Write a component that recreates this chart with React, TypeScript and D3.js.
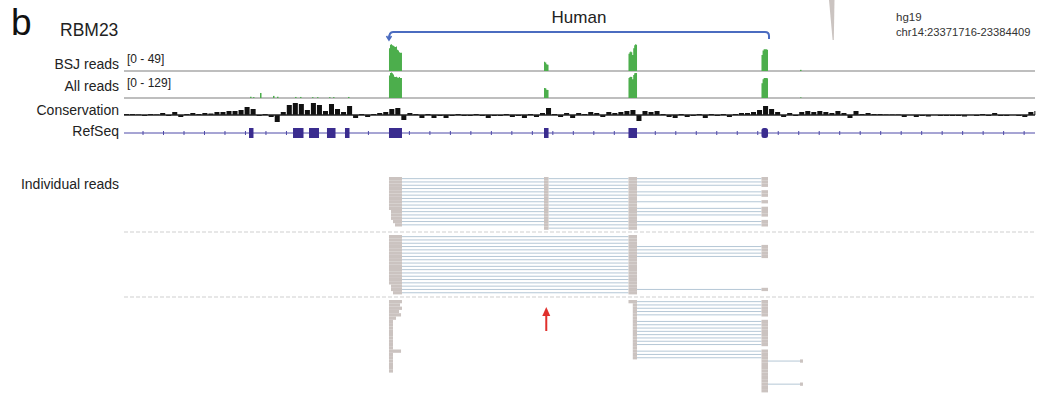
import React from "react";
import * as d3 from "d3";

// hg19 chr14 window
const regionStart = 23371716;
const regionEnd = 23384409;

// circRNA exons (left to right on screen)
const circExons: [number, number][] = [
  [23375408, 23375589],
  [23377568, 23377631],
  [23378745, 23378864],
  [23380598, 23380689],
];
const tailBlock: [number, number] = [23381135, 23381176];
const otherExons: [number, number][] = [
  [23373458, 23373520],
  [23374071, 23374217],
  [23374294, 23374433],
  [23374544, 23374663],
  [23374795, 23374858],
];

// coverage samples across each circ exon
const bsjCoverage = [
  [40, 46, 47, 45, 44, 43, 42, 43, 37, 36, 33, 32, 32],
  [16, 15, 12, 11],
  [30, 33, 34, 33, 28, 40, 45, 47, 46],
  [28, 36, 38, 38, 38, 37],
];
const allCoverage = [
  [108, 120, 122, 118, 112, 102, 100, 101, 98, 97, 100, 96, 95],
  [48, 46, 40, 38],
  [95, 100, 102, 100, 90, 110, 118, 120, 119],
  [70, 90, 96, 96, 95, 94],
];
const allSmallPeaks: [number, number][] = [
  [23373472, 6], [23373513, 4], [23373611, 24], [23373792, 10], [23373848, 6],
  [23374099, 5], [23374168, 5], [23374335, 4], [23374405, 4], [23374572, 4],
  [23374628, 4], [23374837, 5], [23381135, 3],
];
const bsjSmallPeaks: [number, number][] = [[23381135, 2]];

// conservation score per 84 bp bin
const consBin = 84;
const conservation = [
  1, 1, 0.5, -1, 1, 0.5, 2, -1, 3, -2,
  1, 2, 1, 2, 1.5, 3, 3, 4, 4, 5,
  8, 6, -1, 1, -2, -7, 3, 10, 12, 11,
  5, 12, 10, 4, 11, 6, 3, 9, -3, 1,
  -2, 1, 2, 3, 6, 7, -5, 2, 1, -3,
  1, -3, -1, -3, -1, 1, -1, -1, 1, -1,
  -3, -1, -1, 1, -2, -1, -3, 1, -2, 2,
  7, 1, -2, 2, -3, 2, 1, 3, 2, -2,
  3, 2, 3, 4, 5, -6, 4, 3, 4, 1,
  -2, -3, 1, -2, -1, 1, -3, 1, -1, 1,
  -2, 1, 2, 2, 3, 5, 9, 6, 3, -2,
  2, -1, 3, 4, 3, 4, 3, 2, 4, 2,
  -3, 4, 1, 2, 1, 1, 0.5, 0.5, 0.5, -2,
  0, -2, -1, -1.5, 0, -1, -1, -1, -1, -1.5,
  0, -1, 1, -1, 2, -1, -1, 0, -1, -2,
  3, 4,
];

// individual reads: each string is the chain of blocks (0-3 circ exons, 4 tail)
const group1Chains = ["0123", "0123", "0123", "012", "0123", "0123", "012", "0123", "012", "0123", "0123", "0123", "012", "0123", "0123", "12"];
const group1Shift = [0, 0, 0, 0, 0, 0, 0, 0, 0, 0, 28, 28, 28, 56, 84, 0];
const group2Chains = ["02", "02", "02", "023", "023", "023", "023", "02", "02", "02", "02", "02", "02", "02", "02", "02", "023", "02"];
const group2Shift = [0, 0, 0, 0, 0, 0, 0, 0, 0, 0, 0, 0, 0, 0, 0, 28, 28, 56];
const group3LeftEnds = [
  23375589, 23375562, 23375589, 23375548, 23375576, 23375506, 23375464, 23375464,
  23375464, 23375464, 23375464, 23375464, 23375464, 23375464, 23375464, 23375576,
  23375464, 23375464, 23375464, 23375464, 23375464, 23375464,
];
const group3RightChains = [
  "23", "23", "23", "23", "23", "2", "23", "23", "23", "23", "23", "23", "23", "23",
  "2", "23", "23", "23", "34", "3", "3", "3", "3", "3", "3", "34", "3", "3",
];
const group3RightShift = [0, 60, 60, 60, 60, 60, 60, 60, 60, 60, 60, 60, 60, 60, 60, 60, 60, 60, 0, 0, 0, 0, 0, 0, 0, 0, 0, 0];

const readBlocks = [...circExons, tailBlock];
const rowStep = 3.3;
const font = "'Liberation Sans', Arial, sans-serif";

export default function App() {
  const x = d3.scaleLinear().domain([regionStart, regionEnd]).range([124, 1035]);
  const yBsj = d3.scaleLinear().domain([0, 49]).range([71, 43]);
  const yAll = d3.scaleLinear().domain([0, 129]).range([98, 71]);
  const yCons = d3.scaleLinear().domain([-10, 14]).range([125, 101]);

  const covPath = (vals: number[], ex: [number, number], y: d3.ScaleLinear<number, number>) => {
    const step = (ex[1] - ex[0]) / vals.length;
    const pts: [number, number][] = vals.map((v, i) => [ex[0] + i * step, v]);
    pts.push([ex[1], vals[vals.length - 1]]);
    return d3
      .area<[number, number]>()
      .x((d) => x(d[0]))
      .y0(y(0))
      .y1((d) => y(d[1]))
      .curve(d3.curveStepAfter)(pts) as string;
  };

  const readMarks = (key: string, chain: string, top: number, row: number, shift = 0, endOverride?: number) => {
    const blocks = chain.split("").map((c) => [...readBlocks[+c]] as [number, number]);
    blocks[0][0] += shift;
    if (endOverride) blocks[blocks.length - 1][1] = endOverride;
    const yTop = top + row * rowStep;
    const yMid = yTop + rowStep / 2;
    return (
      <g key={key}>
        {blocks.slice(1).map((b, i) => (
          <line key={"l" + i} x1={x(blocks[i][1])} x2={x(b[0])} y1={yMid} y2={yMid} stroke="#b5c7d6" strokeWidth={1} />
        ))}
        {blocks.map((b, i) => (
          <rect key={"b" + i} x={x(b[0])} y={yTop} width={x(b[1]) - x(b[0])} height={rowStep} fill="#cbc3c0" />
        ))}
      </g>
    );
  };

  const allExons = [...otherExons, ...circExons];
  const inExon = (p: number) => allExons.some((e) => p >= e[0] - 40 && p <= e[1] + 40);
  const arrowTicks = d3.range(23371981, regionEnd, 285.5).filter((p) => !inExon(p));

  const labelStyle = { fontFamily: font, fontSize: 14, fill: "#222" } as const;
  const bracketL = x(circExons[0][0]);
  const bracketR = x(circExons[3][1]) + 1;
  const arrowX = x((circExons[1][0] + circExons[1][1]) / 2);

  return (
    <svg width={1046} height={394} style={{ position: "absolute", left: 0, top: 0, background: "#fff" }}>
      {/* headings */}
      <text x={11} y={35} style={{ fontFamily: font, fontSize: 37, fill: "#111" }}>b</text>
      <text x={60} y={36} style={{ fontFamily: font, fontSize: 17.5, fill: "#222" }}>RBM23</text>
      <text x={(bracketL + bracketR) / 2} y={23} textAnchor="middle" style={{ fontFamily: font, fontSize: 17, fill: "#222" }}>Human</text>
      <text x={896} y={21} style={{ fontFamily: font, fontSize: 11.5, fill: "#333" }}>hg19</text>
      <text x={896} y={36} style={{ fontFamily: font, fontSize: 11.2, fill: "#333" }}>chr14:23371716-23384409</text>
      <polygon points="829,0 834.5,0 833.8,40 832.6,40" fill="#cbc4c1" />

      {/* bracket over circRNA */}
      <path
        d={`M${bracketL},39 Q${bracketL},32 ${bracketL + 4},32 L${bracketR - 4},32 Q${bracketR},32 ${bracketR},36 L${bracketR},39`}
        fill="none" stroke="#4b6cc0" strokeWidth={2}
      />
      <path d={`M${bracketL - 2.5},36 L${bracketL},40 L${bracketL + 2.5},36`} fill="none" stroke="#4b6cc0" strokeWidth={1.5} />

      {/* track labels */}
      <text x={119} y={69} textAnchor="end" style={labelStyle}>BSJ reads</text>
      <text x={119} y={91} textAnchor="end" style={labelStyle}>All reads</text>
      <text x={119} y={115} textAnchor="end" style={labelStyle}>Conservation</text>
      <text x={119} y={136} textAnchor="end" style={labelStyle}>RefSeq</text>
      <text x={119} y={189} textAnchor="end" style={labelStyle}>Individual reads</text>
      <text x={127} y={63} style={{ fontFamily: font, fontSize: 12, fill: "#222" }}>[0 - 49]</text>
      <text x={127} y={87} style={{ fontFamily: font, fontSize: 12, fill: "#222" }}>[0 - 129]</text>

      {/* coverage tracks */}
      <line x1={x(regionStart)} x2={x(regionEnd)} y1={yBsj(0)} y2={yBsj(0)} stroke="#a9a9a9" strokeWidth={1.5} />
      <line x1={x(regionStart)} x2={x(regionEnd)} y1={yAll(0)} y2={yAll(0)} stroke="#a9a9a9" strokeWidth={1.5} />
      {circExons.map((ex, i) => (
        <g key={"cov" + i}>
          <path d={covPath(bsjCoverage[i], ex, yBsj)} fill="#4cae4c" />
          <path d={covPath(allCoverage[i], ex, yAll)} fill="#4cae4c" />
        </g>
      ))}
      {allSmallPeaks.map(([p, v], i) => (
        <rect key={"ap" + i} x={x(p)} y={yAll(v)} width={1.5} height={yAll(0) - yAll(v)} fill="#4cae4c" />
      ))}
      {bsjSmallPeaks.map(([p, v], i) => (
        <rect key={"bp" + i} x={x(p)} y={yBsj(v)} width={1.5} height={yBsj(0) - yBsj(v)} fill="#4cae4c" />
      ))}

      {/* conservation */}
      {conservation.map((v, i) => {
        const s = regionStart + i * consBin;
        const e = Math.min(regionEnd, s + consBin);
        const y0 = yCons(0);
        const y1 = yCons(v);
        return (
          <rect key={"c" + i} x={x(s)} y={Math.min(y0, y1)} width={Math.max(1, x(e) - x(s) - 1)} height={Math.abs(y1 - y0)} fill="#111" />
        );
      })}
      <line x1={x(regionStart)} x2={x(regionEnd)} y1={yCons(0)} y2={yCons(0)} stroke="#222" strokeWidth={1.5} />

      {/* RefSeq gene model */}
      <line x1={x(regionStart)} x2={x(regionEnd)} y1={133} y2={133} stroke="#4f4aa8" strokeWidth={1} />
      {arrowTicks.map((p, i) => (
        <line key={"t" + i} x1={x(p)} x2={x(p)} y1={131} y2={135} stroke="#4f4aa8" strokeWidth={1} />
      ))}
      {allExons.map((e, i) => (
        <rect key={"e" + i} x={x(e[0])} y={128} width={x(e[1]) - x(e[0])} height={10} rx={i === allExons.length - 1 ? 2.5 : 0} fill="#3a2c8f" />
      ))}

      {/* individual reads */}
      {group1Chains.map((c, k) => readMarks("g1" + k, c, 177, k, group1Shift[k]))}
      {group2Chains.map((c, k) => readMarks("g2" + k, c, 235, k, group2Shift[k]))}
      {group3LeftEnds.map((e, k) => readMarks("g3l" + k, "0", 300, k, 0, e))}
      {group3RightChains.map((c, k) => readMarks("g3r" + k, c, 300, k, group3RightShift[k]))}
      {[232, 297].map((y) => (
        <line key={"sep" + y} x1={x(regionStart)} x2={x(regionEnd)} y1={y} y2={y} stroke="#cfcfcf" strokeWidth={1} strokeDasharray="4 2" />
      ))}

      {/* red arrow */}
      <line x1={arrowX} x2={arrowX} y1={331} y2={314} stroke="#e0302c" strokeWidth={2} />
      <polygon points={`${arrowX - 4},316 ${arrowX},307 ${arrowX + 4},316`} fill="#e0302c" />
    </svg>
  );
}
